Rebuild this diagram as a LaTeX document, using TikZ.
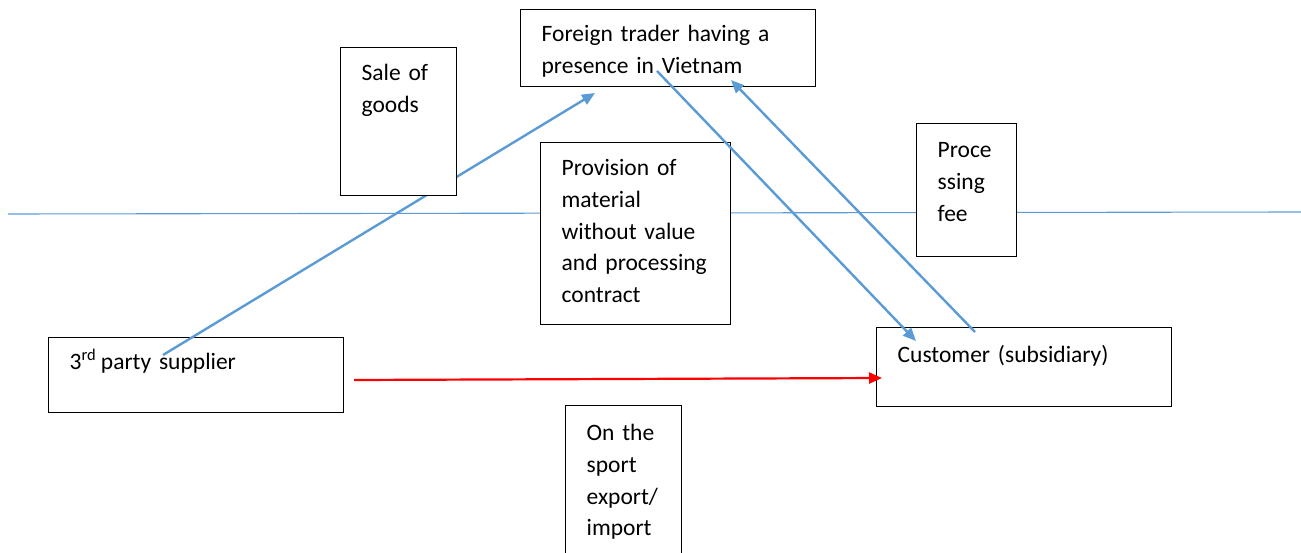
\documentclass[tikz,border=0pt]{standalone}
\usepackage{fontspec}
\setmainfont{Carlito}
\usetikzlibrary{arrows.meta}
\hyphenpenalty=10000
\exhyphenpenalty=10000

\tikzset{
  frame/.style n args={3}{draw, fill=white, line width=1.3pt, anchor=north west,
    align=left, inner xsep=21pt, inner ysep=0pt,
    text width=#1pt, text height=#2pt, text depth=#3pt,
    font=\fontsize{23.5}{31.7}\selectfont},
  flow/.style={draw=flowblue, line width=2.4pt, -{Triangle[length=13pt,width=11pt]}},
  ship/.style={draw=red, line width=2.2pt, -{Triangle[length=13pt,width=11pt]}}
}
\definecolor{flowblue}{HTML}{5B9BD5}

\begin{document}
\begin{tikzpicture}[x=1pt, y=-1pt]
  \useasboundingbox (0,0) rectangle (1301,553);

  \coordinate (divL) at (8,214);
  \coordinate (divR) at (1301,212);
  \draw[flowblue, line width=1.1pt] (divL) -- (divR);

  \node[frame={253}{32}{45}] (trader) at (520,9) {Foreign trader having a\\ presence in Vietnam};
  \node[frame={253}{32}{43}] (supplier) at (48,337) {3\textsuperscript{rd}\hspace{0.2em}party supplier};
  \node[frame={253}{35}{44}] (customer) at (876,327) {Customer (subsidiary)};
  \node[frame={148}{33}{149}] (contract) at (540,142) {Provision of\\ material\\ without~value\\ and~processing\\ contract};
  \node[frame={58}{34}{99}] (fee) at (916,123) {Proce\\ ssing\\ fee};
  \node[frame={74}{35}{117}] (sport) at (565,405) {On the\\ sport\\ export/\\ import};

  \draw[flow] ([shift={(115,18)}]supplier.north west) -- ([shift={(75,84)}]trader.north west);
  \draw[flow] ([shift={(137,62)}]trader.north west) -- ([shift={(40,14)}]customer.north west);
  \draw[flow] ([shift={(99,5)}]customer.north west) -- ([shift={(211,71)}]trader.north west);
  \draw[ship] ([shift={(306,43)}]supplier.north west) -- ([shift={(6,51)}]customer.north west);

  \node[frame={74}{33}{115}] (sale) at (340,47) {Sale of\\ goods};
\end{tikzpicture}
\end{document}
